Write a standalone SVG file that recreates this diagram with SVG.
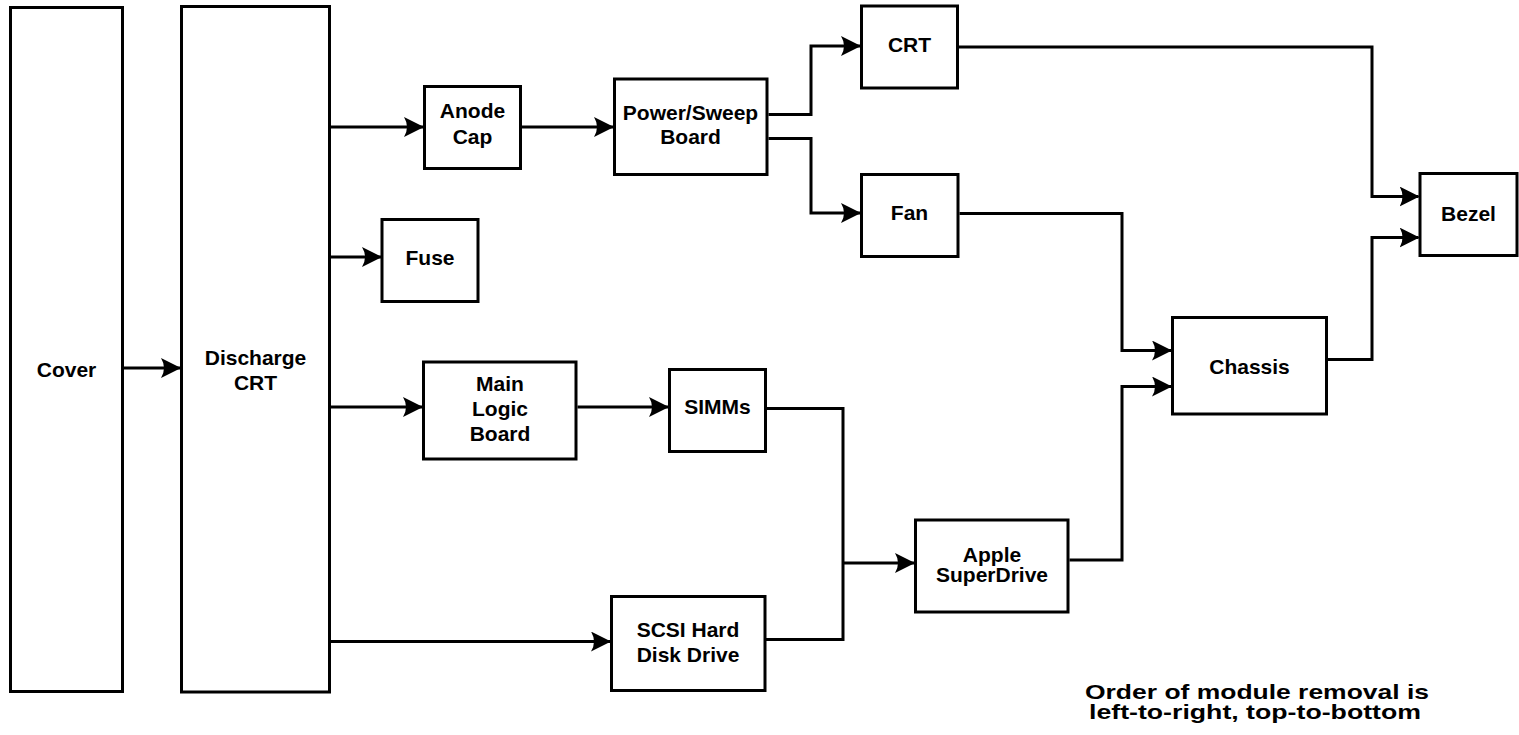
<svg xmlns="http://www.w3.org/2000/svg" width="1519" height="735" viewBox="0 0 1519 735">
<style>
.box{fill:#fff;stroke:#000;stroke-width:3}
.lbl{font-family:"Liberation Sans",Arial,Helvetica,sans-serif;font-weight:bold;font-size:21px;fill:#000;text-anchor:middle}
.con{fill:none;stroke:#000;stroke-width:3;stroke-linejoin:miter}
</style>
<defs>
<marker id="ah" viewBox="0 0 20 20" refX="19" refY="10" markerWidth="20" markerHeight="20" markerUnits="userSpaceOnUse" orient="auto">
<path d="M0,0 L20,10 L0,20 Q6,10 0,0 Z" fill="#000"/>
</marker>
</defs>
<rect width="1519" height="735" fill="#fff"/>
<g id="connectors">
<path class="con" marker-end="url(#ah)" d="M124,368 H180"/>
<path class="con" marker-end="url(#ah)" d="M331,127 H423"/>
<path class="con" marker-end="url(#ah)" d="M331,257 H381"/>
<path class="con" marker-end="url(#ah)" d="M331,407 H422"/>
<path class="con" marker-end="url(#ah)" d="M331,641.5 H610"/>
<path class="con" marker-end="url(#ah)" d="M522,127 H613"/>
<path class="con" marker-end="url(#ah)" d="M768.5,114.5 H811 V46 H860"/>
<path class="con" marker-end="url(#ah)" d="M768.5,138.5 H811 V213 H860"/>
<path class="con" marker-end="url(#ah)" d="M577.5,407 H668"/>
<path class="con" d="M767,408.5 H843 V639.5 H766"/>
<path class="con" marker-end="url(#ah)" d="M843,563 H914"/>
<path class="con" marker-end="url(#ah)" d="M959,47 H1372 V196.5 H1418.5"/>
<path class="con" marker-end="url(#ah)" d="M1328,359.5 H1372 V237.5 H1418.5"/>
<path class="con" marker-end="url(#ah)" d="M959.5,213.5 H1122 V350.5 H1171"/>
<path class="con" marker-end="url(#ah)" d="M1069.5,560 H1122 V386.5 H1171"/>
</g>
<g id="cover"><rect class="box" x="10.5" y="7.5" width="112" height="684"/><text class="lbl" x="66.5" y="377">Cover</text></g>
<g id="discharge-crt"><rect class="box" x="181.5" y="6.5" width="148" height="685.5"/><text class="lbl" x="255.5" y="365">Discharge</text><text class="lbl" x="255.5" y="390">CRT</text></g>
<g id="anode-cap"><rect class="box" x="424.5" y="86.5" width="96" height="82"/><text class="lbl" x="472.5" y="118">Anode</text><text class="lbl" x="472.5" y="143.5">Cap</text></g>
<g id="fuse"><rect class="box" x="382" y="219.5" width="96" height="82"/><text class="lbl" x="430" y="265">Fuse</text></g>
<g id="main-logic-board"><rect class="box" x="423.5" y="362" width="152.5" height="97"/><text class="lbl" x="500" y="391">Main</text><text class="lbl" x="500" y="416">Logic</text><text class="lbl" x="500" y="441">Board</text></g>
<g id="scsi"><rect class="box" x="611.5" y="596.5" width="153.5" height="94"/><text class="lbl" x="688" y="637">SCSI Hard</text><text class="lbl" x="688" y="662">Disk Drive</text></g>
<g id="power-sweep"><rect class="box" x="614.5" y="79" width="152.5" height="95.5"/><text class="lbl" x="690.5" y="119.5">Power/Sweep</text><text class="lbl" x="690.5" y="144">Board</text></g>
<g id="simms"><rect class="box" x="669.5" y="369.5" width="96" height="82"/><text class="lbl" x="717.5" y="414">SIMMs</text></g>
<g id="crt"><rect class="box" x="861.5" y="6" width="96" height="82"/><text class="lbl" x="909.5" y="52">CRT</text></g>
<g id="fan"><rect class="box" x="861.5" y="174.5" width="96.5" height="82"/><text class="lbl" x="909.5" y="220">Fan</text></g>
<g id="apple-superdrive"><rect class="box" x="915.5" y="520" width="152.5" height="92"/><text class="lbl" x="992" y="562">Apple</text><text class="lbl" x="992" y="582">SuperDrive</text></g>
<g id="chassis"><rect class="box" x="1172.5" y="317.5" width="154" height="96.5"/><text class="lbl" x="1249.5" y="374">Chassis</text></g>
<g id="bezel"><rect class="box" x="1420" y="173.5" width="97" height="82"/><text class="lbl" x="1468.5" y="221">Bezel</text></g>
<g id="note"><text class="lbl" x="1257" y="699" font-size="22" textLength="344" lengthAdjust="spacingAndGlyphs">Order of module removal is</text><text class="lbl" x="1255" y="719" font-size="22" textLength="332" lengthAdjust="spacingAndGlyphs">left-to-right, top-to-bottom</text></g>
</svg>
